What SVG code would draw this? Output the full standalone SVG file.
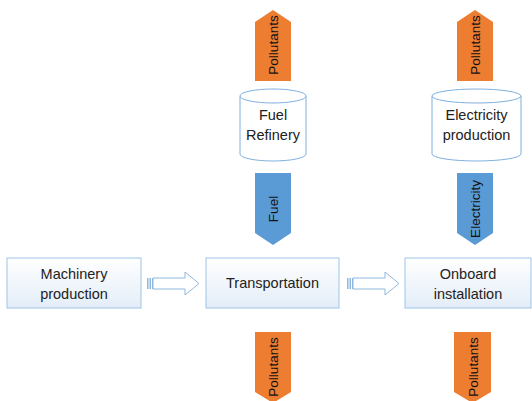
<svg xmlns="http://www.w3.org/2000/svg" width="532" height="401" viewBox="0 0 532 401">
<defs>
<linearGradient id="boxg" x1="0" y1="0" x2="0" y2="1">
<stop offset="0" stop-color="#ffffff"/>
<stop offset="1" stop-color="#e3edf8"/>
</linearGradient>
</defs>
<style>
.box{fill:url(#boxg);stroke:#9dc3e6;stroke-width:1}
.cyl{fill:#ffffff;stroke:#7fb0de;stroke-width:1}
.t{font-family:"Liberation Sans",Arial,sans-serif;font-size:14.5px;fill:#222;text-anchor:middle}
.at{font-family:"Liberation Sans",Arial,sans-serif;font-size:13.5px;fill:#111;text-anchor:middle}
.orange{fill:#ed7d31}
.blue{fill:#5b9bd5}
.barrow{fill:#ffffff;stroke:#8fb8e0;stroke-width:1}
</style>
<rect width="532" height="401" fill="#ffffff"/>

<g id="pollutants-fuel-top">
<path class="orange" d="M255,22 L273,10 L291,22 L291,81 L255,81 Z"/>
<text class="at" transform="translate(278,45) rotate(-90)">Pollutants</text>
</g>
<g id="pollutants-elec-top">
<path class="orange" d="M457,22 L475,10 L493,22 L493,81 L457,81 Z"/>
<text class="at" transform="translate(480,45) rotate(-90)">Pollutants</text>
</g>

<g id="fuel-refinery">
<path class="cyl" d="M240,96 L240,154 A33,7 0 0 0 306,154 L306,96"/>
<ellipse class="cyl" cx="273" cy="96" rx="33" ry="7"/>
<text class="t" x="273" y="120">Fuel</text>
<text class="t" x="273" y="140">Refinery</text>
</g>
<g id="electricity-production">
<path class="cyl" d="M432,96 L432,154 A44.5,7 0 0 0 521,154 L521,96"/>
<ellipse class="cyl" cx="476.5" cy="96" rx="44.5" ry="7"/>
<text class="t" x="476.5" y="120">Electricity</text>
<text class="t" x="476.5" y="140">production</text>
</g>

<g id="fuel-arrow">
<path class="blue" d="M255,173 L291,173 L291,233 L273,245 L255,233 Z"/>
<text class="at" transform="translate(278,209) rotate(-90)">Fuel</text>
</g>
<g id="electricity-arrow">
<path class="blue" d="M457,173 L493,173 L493,233 L475,245 L457,233 Z"/>
<text class="at" transform="translate(480,209) rotate(-90)">Electricity</text>
</g>

<g id="machinery-production">
<rect class="box" x="7" y="258" width="134" height="50"/>
<text class="t" x="74" y="279">Machinery</text>
<text class="t" x="74" y="299">production</text>
</g>
<g id="transportation">
<rect class="box" x="206" y="258" width="133" height="50"/>
<text class="t" x="272.5" y="288">Transportation</text>
</g>
<g id="onboard-installation">
<rect class="box" x="405" y="258" width="126" height="50"/>
<text class="t" x="468" y="279">Onboard</text>
<text class="t" x="468" y="299">installation</text>
</g>

<g id="connectors">
<g id="arrow1">
<path class="barrow" d="M153,278 L185,278 L185,272 L199,283.5 L185,295 L185,289 L153,289 Z"/>
<rect x="147" y="278" width="1.5" height="11" fill="#8fb8e0"/>
<rect x="149.5" y="278" width="1.5" height="11" fill="#8fb8e0"/>
<rect x="152" y="278" width="1" height="11" fill="#8fb8e0"/>
</g>
<g id="arrow2">
<path class="barrow" d="M353,278 L385,278 L385,272 L399,283.5 L385,295 L385,289 L353,289 Z"/>
<rect x="347" y="278" width="1.5" height="11" fill="#8fb8e0"/>
<rect x="349.5" y="278" width="1.5" height="11" fill="#8fb8e0"/>
<rect x="352" y="278" width="1" height="11" fill="#8fb8e0"/>
</g>
</g>

<g id="pollutants-transport-bottom">
<path class="orange" d="M255,332 L291,332 L291,392 L273,403 L255,392 Z"/>
<text class="at" transform="translate(278,367) rotate(-90)">Pollutants</text>
</g>
<g id="pollutants-onboard-bottom">
<path class="orange" d="M454,332 L491,332 L491,392 L472.5,403 L454,392 Z"/>
<text class="at" transform="translate(477.5,367) rotate(-90)">Pollutants</text>
</g>
</svg>
